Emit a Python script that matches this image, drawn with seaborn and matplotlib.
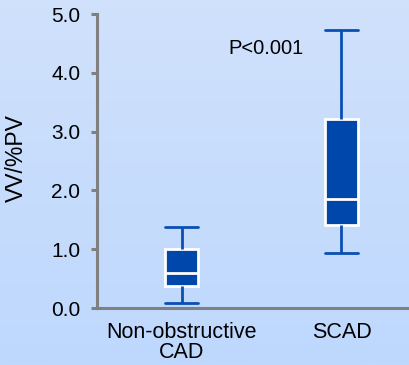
import numpy as np
import pandas as pd
import matplotlib
matplotlib.use("Agg")
import matplotlib.pyplot as plt
import seaborn as sns

# Five-number summaries (min, Q1, median, Q3, max)
categories = ["Non-obstructive\nCAD", "SCAD"]
nonobs_values = [0.085, 0.37, 0.60, 1.00, 1.38]
scad_values = [0.94, 1.41, 1.85, 3.21, 4.73]
yticks = [0.0, 1.0, 2.0, 3.0, 4.0, 5.0]
ylabel = "VV/%PV"
p_text = "P<0.001"

df = pd.DataFrame({
    "group": [categories[0]] * len(nonobs_values) + [categories[1]] * len(scad_values),
    "value": nonobs_values + scad_values,
})

sns.set_theme(style="white")
plt.rcParams["font.family"] = ["Liberation Sans", "DejaVu Sans"]

BG_TOP = np.array([208, 225, 251]) / 255
BG_BOT = np.array([190, 216, 254]) / 255
BOX = "#0047ab"
LINE = "#0a4fb3"
GRAY = "#808080"

fig = plt.figure(figsize=(4.09, 3.65), dpi=100)
bg = fig.add_axes([0, 0, 1, 1], zorder=-10)
grad = np.linspace(0, 1, 256)[:, None, None]
img = BG_TOP * (1 - grad) + BG_BOT * grad
bg.imshow(np.repeat(img, 2, axis=1), aspect="auto", extent=[0, 1, 0, 1])
bg.axis("off")

ax = fig.add_axes([97 / 409, 57 / 365, 310 / 409, 294 / 365])
ax.patch.set_alpha(0)

sns.boxplot(
    data=df, x="group", y="value", order=categories, ax=ax,
    whis=np.inf, width=0.21, color=BOX, saturation=1, linewidth=2,
    boxprops=dict(facecolor=BOX, edgecolor="white", linewidth=2),
    whiskerprops=dict(color=LINE, linewidth=2),
    capprops=dict(color=LINE, linewidth=2),
    medianprops=dict(color="white", linewidth=2),
    capwidths=0.21,
)

ax.set_xlim(-0.53, 1.41)
ax.set_ylim(0, 5)
ax.set_yticks(yticks)
ax.set_yticklabels([f"{t:.1f}" for t in yticks])
ax.set_xlabel("")
ax.set_ylabel(ylabel, fontsize=16.5, color="black")
ax.yaxis.set_label_coords(-0.223, 0.51)

for s in ["top", "right"]:
    ax.spines[s].set_visible(False)
for s in ["left", "bottom"]:
    ax.spines[s].set_color(GRAY)
    ax.spines[s].set_linewidth(2.2)

ax.tick_params(axis="y", left=True, length=4, width=2.2, color=GRAY,
               labelsize=15, labelcolor="black", pad=8)
ax.tick_params(axis="x", bottom=False, labelsize=15.5, labelcolor="black", pad=4)
for lab in ax.get_xticklabels():
    lab.set_linespacing(0.92)

ax.text(0.53, 4.42, p_text, ha="center", va="center", fontsize=14.5, color="black")

fig.savefig("out.png", dpi=100)
